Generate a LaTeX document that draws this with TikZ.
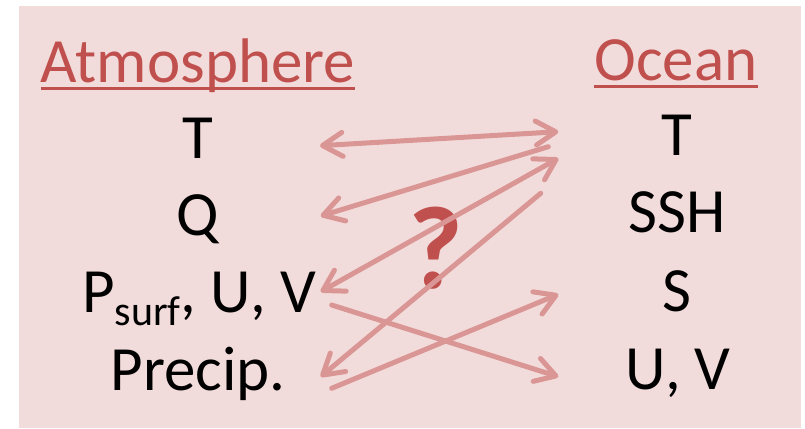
\documentclass[tikz,border=0pt]{standalone}
\usepackage{fontspec}
\setmainfont{Carlito}
\usetikzlibrary{arrows.meta}
\definecolor{bgpink}{HTML}{F2DCDB}
\definecolor{titlered}{HTML}{C0504D}
\definecolor{arrowpink}{HTML}{D99694}
\tikzset{barbhead/.tip={Straight Barb[length=20pt,width=24pt,line cap=round,line join=round]}}
\newcommand{\subsurf}{\raisebox{-13pt}{\fontsize{42}{44}\selectfont surf}}
\begin{document}
\begin{tikzpicture}[x=1pt,y=-1pt,
  lbl/.style={anchor=base,inner sep=0pt,font=\fontsize{63}{70}\selectfont},
  ttl/.style={lbl,text=titlered},
  conn/.style={draw=arrowpink,line width=5pt,line cap=round,line join=round}]
\useasboundingbox (0,0) rectangle (805,428);
\fill[bgpink] (19,6) rectangle (801,428);
% titles
\node[ttl] (atm) at (198,82) {Atmosphere};
\node[ttl] (oce) at (676,80) {Ocean};
\draw[titlered,line width=3pt] ([yshift=-6pt]atm.base west) -- ([yshift=-6pt]atm.base east);
\draw[titlered,line width=3pt] ([yshift=-6pt]oce.base west) -- ([yshift=-6pt]oce.base east);
% atmosphere variables
\node[lbl] (aT) at (198,158) {T};
\node[lbl] (aQ) at (198,235) {Q};
\node[lbl] (aP) at (199,312) {P\subsurf, U, V};
\node[lbl] (aR) at (198,390) {Precip.};
% ocean variables
\node[lbl] (oT) at (677,155) {T};
\node[lbl] (oH) at (677,232) {SSH};
\node[lbl] (oS) at (677,311) {S};
\node[lbl] (oU) at (678,389) {U, V};
% question mark
\node[anchor=base,inner sep=0pt,text=titlered,font=\fontsize{118}{120}\selectfont\bfseries] (qm) at (436,288) {?};
% arrow end points
\coordinate (a1) at (320,145.7);  \coordinate (b1) at (558.3,131.7);
\coordinate (b2) at (548.3,146.7); \coordinate (a2) at (320.7,216);
\coordinate (a3) at (320.7,291.7); \coordinate (b3) at (558.3,158.3);
\coordinate (b4) at (540.7,193.3); \coordinate (a4) at (320.7,376.7);
\coordinate (a5) at (331.7,388.3); \coordinate (b5) at (558.3,294.3);
\coordinate (a6) at (331.7,305);   \coordinate (b6) at (558.3,376.7);
% connectors
\draw[conn,barbhead-barbhead] (a1) -- (b1);
\draw[conn,-barbhead] (b2) -- (a2);
\draw[conn,barbhead-barbhead] (a3) -- (b3);
\draw[conn,-barbhead] (b4) -- (a4);
\draw[conn,-barbhead] (a5) -- (b5);
\draw[conn,-barbhead] (a6) -- (b6);
\end{tikzpicture}
\end{document}
